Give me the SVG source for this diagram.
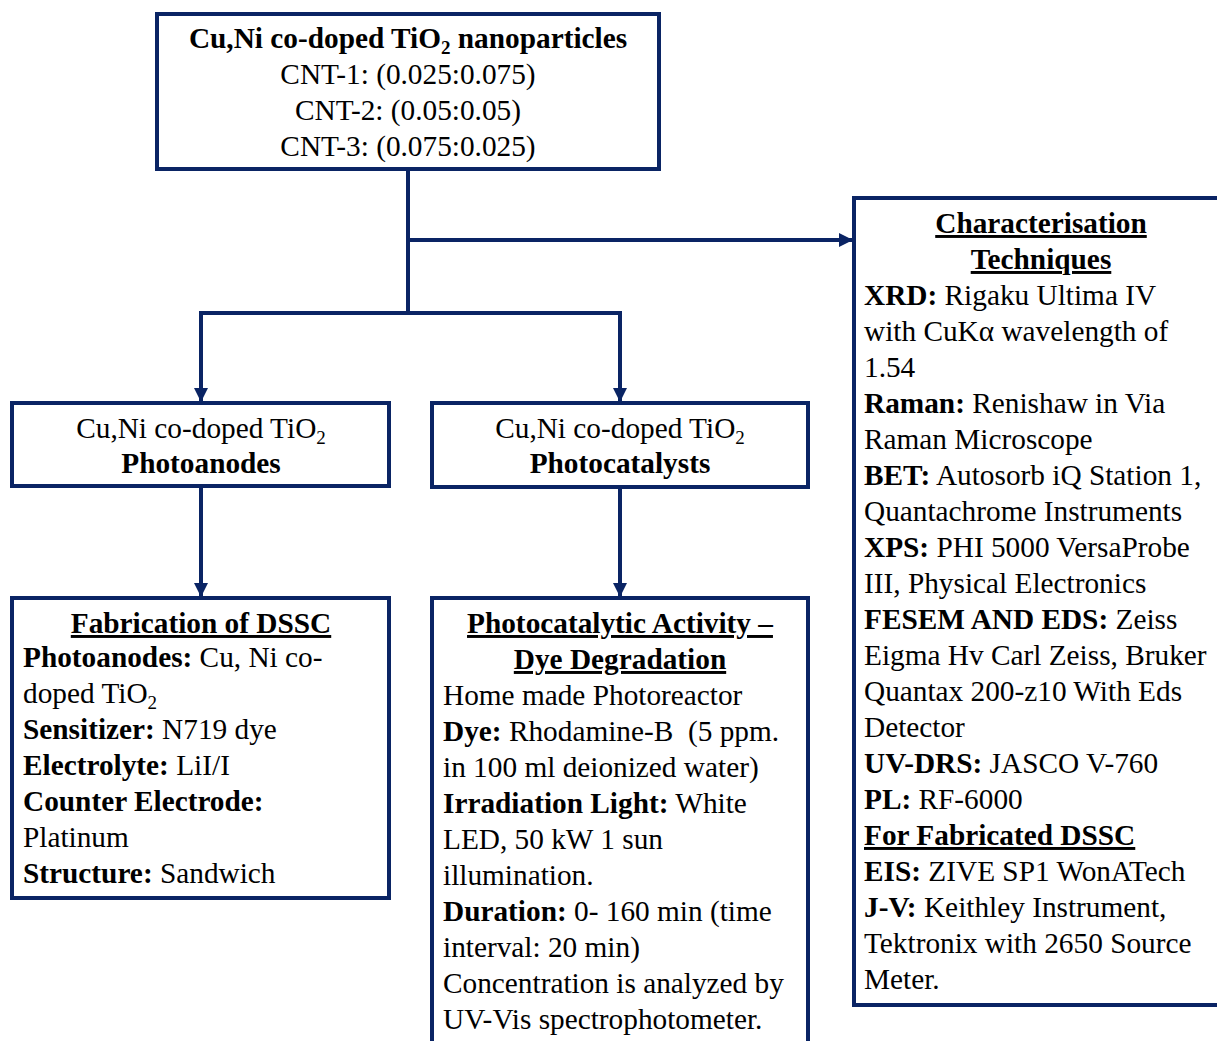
<svg xmlns="http://www.w3.org/2000/svg" width="1217" height="1041" viewBox="0 0 1217 1041">
<style>
.box{fill:#fff;stroke:#0a2464;stroke-width:4}
.ln{fill:none;stroke:#0a2464;stroke-width:4}
text{font-family:"Liberation Serif","Times New Roman",serif;font-size:29.3px;fill:#000}
.b{font-weight:bold}
.c{text-anchor:middle}
.u{text-decoration:underline}
.sub{font-size:19px}
</style>
<defs>
<marker id="ah" markerUnits="userSpaceOnUse" markerWidth="16" markerHeight="16" refX="13" refY="8" orient="auto">
<path d="M0,1 L14,8 L0,15 Z" fill="#0a2464"/>
</marker>
</defs>
<rect width="1217" height="1041" fill="#fff"/>
<g id="connectors">
<path class="ln" d="M408,169 V313"/>
<path class="ln" d="M408,240 H852" marker-end="url(#ah)"/>
<path class="ln" d="M201,313 H620"/>
<path class="ln" d="M201,311 V401" marker-end="url(#ah)"/>
<path class="ln" d="M620,311 V401" marker-end="url(#ah)"/>
<path class="ln" d="M201,486 V596" marker-end="url(#ah)"/>
<path class="ln" d="M620,487 V596" marker-end="url(#ah)"/>
</g>
<g id="n-top">
<rect class="box" x="157" y="14" width="502" height="155"/>
<text class="c b" x="408" y="48">Cu,Ni co-doped TiO<tspan class="sub" dy="6">2</tspan><tspan dy="-6"> nanoparticles</tspan></text>
<text class="c" x="408" y="84">CNT-1: (0.025:0.075)</text>
<text class="c" x="408" y="120">CNT-2: (0.05:0.05)</text>
<text class="c" x="408" y="156">CNT-3: (0.075:0.025)</text>
</g>
<g id="n-photoanodes">
<rect class="box" x="12" y="403" width="377" height="83"/>
<text class="c" x="201" y="438">Cu,Ni co-doped TiO<tspan class="sub" dy="6">2</tspan></text>
<text class="c b" x="201" y="473">Photoanodes</text>
</g>
<g id="n-photocatalysts">
<rect class="box" x="432" y="403" width="376" height="84"/>
<text class="c" x="620" y="438">Cu,Ni co-doped TiO<tspan class="sub" dy="6">2</tspan></text>
<text class="c b" x="620" y="473">Photocatalysts</text>
</g>
<g id="n-dssc">
<rect class="box" x="12" y="598" width="377" height="300"/>
<text class="c b u" x="201" y="633">Fabrication of DSSC</text>
<text x="23" y="667"><tspan class="b">Photoanodes:</tspan> Cu, Ni co-</text>
<text x="23" y="703">doped TiO<tspan class="sub" dy="6">2</tspan></text>
<text x="23" y="739"><tspan class="b">Sensitizer:</tspan> N719 dye</text>
<text x="23" y="775"><tspan class="b">Electrolyte:</tspan> LiI/I</text>
<text x="23" y="811" class="b">Counter Electrode:</text>
<text x="23" y="847">Platinum</text>
<text x="23" y="883"><tspan class="b">Structure:</tspan> Sandwich</text>
</g>
<g id="n-photocatalytic">
<rect class="box" x="432" y="598" width="376" height="460"/>
<text class="c b u" x="620" y="633">Photocatalytic Activity –</text>
<text class="c b u" x="620" y="669">Dye Degradation</text>
<text x="443" y="705">Home made Photoreactor</text>
<text x="443" y="741" xml:space="preserve"><tspan class="b">Dye:</tspan> Rhodamine-B  (5 ppm.</text>
<text x="443" y="777">in 100 ml deionized water)</text>
<text x="443" y="813"><tspan class="b">Irradiation Light:</tspan> White</text>
<text x="443" y="849">LED, 50 kW 1 sun</text>
<text x="443" y="885">illumination.</text>
<text x="443" y="921"><tspan class="b">Duration:</tspan> 0- 160 min (time</text>
<text x="443" y="957">interval: 20 min)</text>
<text x="443" y="993">Concentration is analyzed by</text>
<text x="443" y="1029">UV-Vis spectrophotometer.</text>
</g>
<g id="n-characterisation">
<rect class="box" x="854" y="198" width="380" height="807"/>
<text class="c b u" x="1041" y="233">Characterisation</text>
<text class="c b u" x="1041" y="269">Techniques</text>
<text x="864" y="305"><tspan class="b">XRD:</tspan> Rigaku Ultima IV</text>
<text x="864" y="341">with CuKα wavelength of</text>
<text x="864" y="377">1.54</text>
<text x="864" y="413"><tspan class="b">Raman:</tspan> Renishaw in Via</text>
<text x="864" y="449">Raman Microscope</text>
<text x="864" y="485"><tspan class="b">BET:</tspan> Autosorb iQ Station 1,</text>
<text x="864" y="521">Quantachrome Instruments</text>
<text x="864" y="557"><tspan class="b">XPS:</tspan> PHI 5000 VersaProbe</text>
<text x="864" y="593">III, Physical Electronics</text>
<text x="864" y="629"><tspan class="b">FESEM AND EDS:</tspan> Zeiss</text>
<text x="864" y="665">Eigma Hv Carl Zeiss, Bruker</text>
<text x="864" y="701">Quantax 200-z10 With Eds</text>
<text x="864" y="737">Detector</text>
<text x="864" y="773"><tspan class="b">UV-DRS:</tspan> JASCO V-760</text>
<text x="864" y="809"><tspan class="b">PL:</tspan> RF-6000</text>
<text x="864" y="845" class="b u">For Fabricated DSSC</text>
<text x="864" y="881"><tspan class="b">EIS:</tspan> ZIVE SP1 WonATech</text>
<text x="864" y="917"><tspan class="b">J-V:</tspan> Keithley Instrument,</text>
<text x="864" y="953">Tektronix with 2650 Source</text>
<text x="864" y="989">Meter.</text>
</g>
</svg>
